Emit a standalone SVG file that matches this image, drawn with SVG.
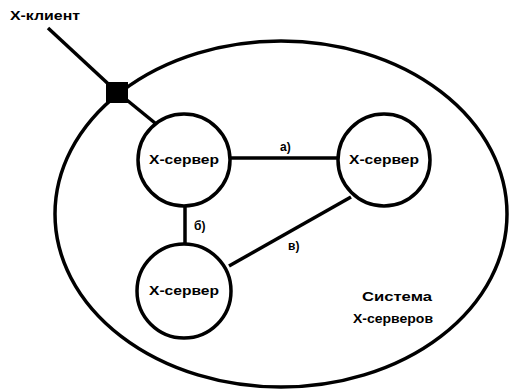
<svg xmlns="http://www.w3.org/2000/svg" width="509" height="390" viewBox="0 0 509 390">
<style>
.ln{stroke:#000;stroke-width:3.5;fill:none}
.nd{stroke:#000;stroke-width:3.5;fill:#fff}
.t{font-family:"Liberation Sans",Arial,sans-serif;font-weight:bold;font-size:12px;fill:#000}
.c{text-anchor:middle}
</style>
<rect width="509" height="390" fill="#fff"/>
<g id="system">
<ellipse class="ln" cx="281" cy="214" rx="226" ry="173"/>
<text class="t c" x="397" y="301" textLength="70" lengthAdjust="spacingAndGlyphs">Система</text>
<text class="t c" x="393" y="323" textLength="80" lengthAdjust="spacingAndGlyphs">Х-серверов</text>
</g>
<g id="connectors">
<line class="ln" x1="48" y1="28" x2="117" y2="92"/>
<line class="ln" x1="117" y1="92" x2="155" y2="123"/>
<line class="ln" x1="230" y1="158" x2="338" y2="158"/>
<line class="ln" x1="185" y1="207" x2="185" y2="244"/>
<line class="ln" x1="351" y1="197" x2="229" y2="266"/>
<text class="t" x="280" y="151">а)</text>
<text class="t" x="194" y="230">б)</text>
<text class="t" x="288" y="250">в)</text>
</g>
<g id="client">
<text class="t" x="10" y="20" textLength="70" lengthAdjust="spacingAndGlyphs">Х-клиент</text>
</g>
<g id="access">
<rect x="106" y="82" width="22" height="21" fill="#000"/>
</g>
<g id="server1">
<circle class="nd" cx="184" cy="160" r="46"/>
<text class="t c" x="184" y="164" textLength="70" lengthAdjust="spacingAndGlyphs">Х-сервер</text>
</g>
<g id="server2">
<circle class="nd" cx="384" cy="160" r="46"/>
<text class="t c" x="384" y="164" textLength="70" lengthAdjust="spacingAndGlyphs">Х-сервер</text>
</g>
<g id="server3">
<circle class="nd" cx="184" cy="291" r="47"/>
<text class="t c" x="184" y="295" textLength="70" lengthAdjust="spacingAndGlyphs">Х-сервер</text>
</g>
</svg>
